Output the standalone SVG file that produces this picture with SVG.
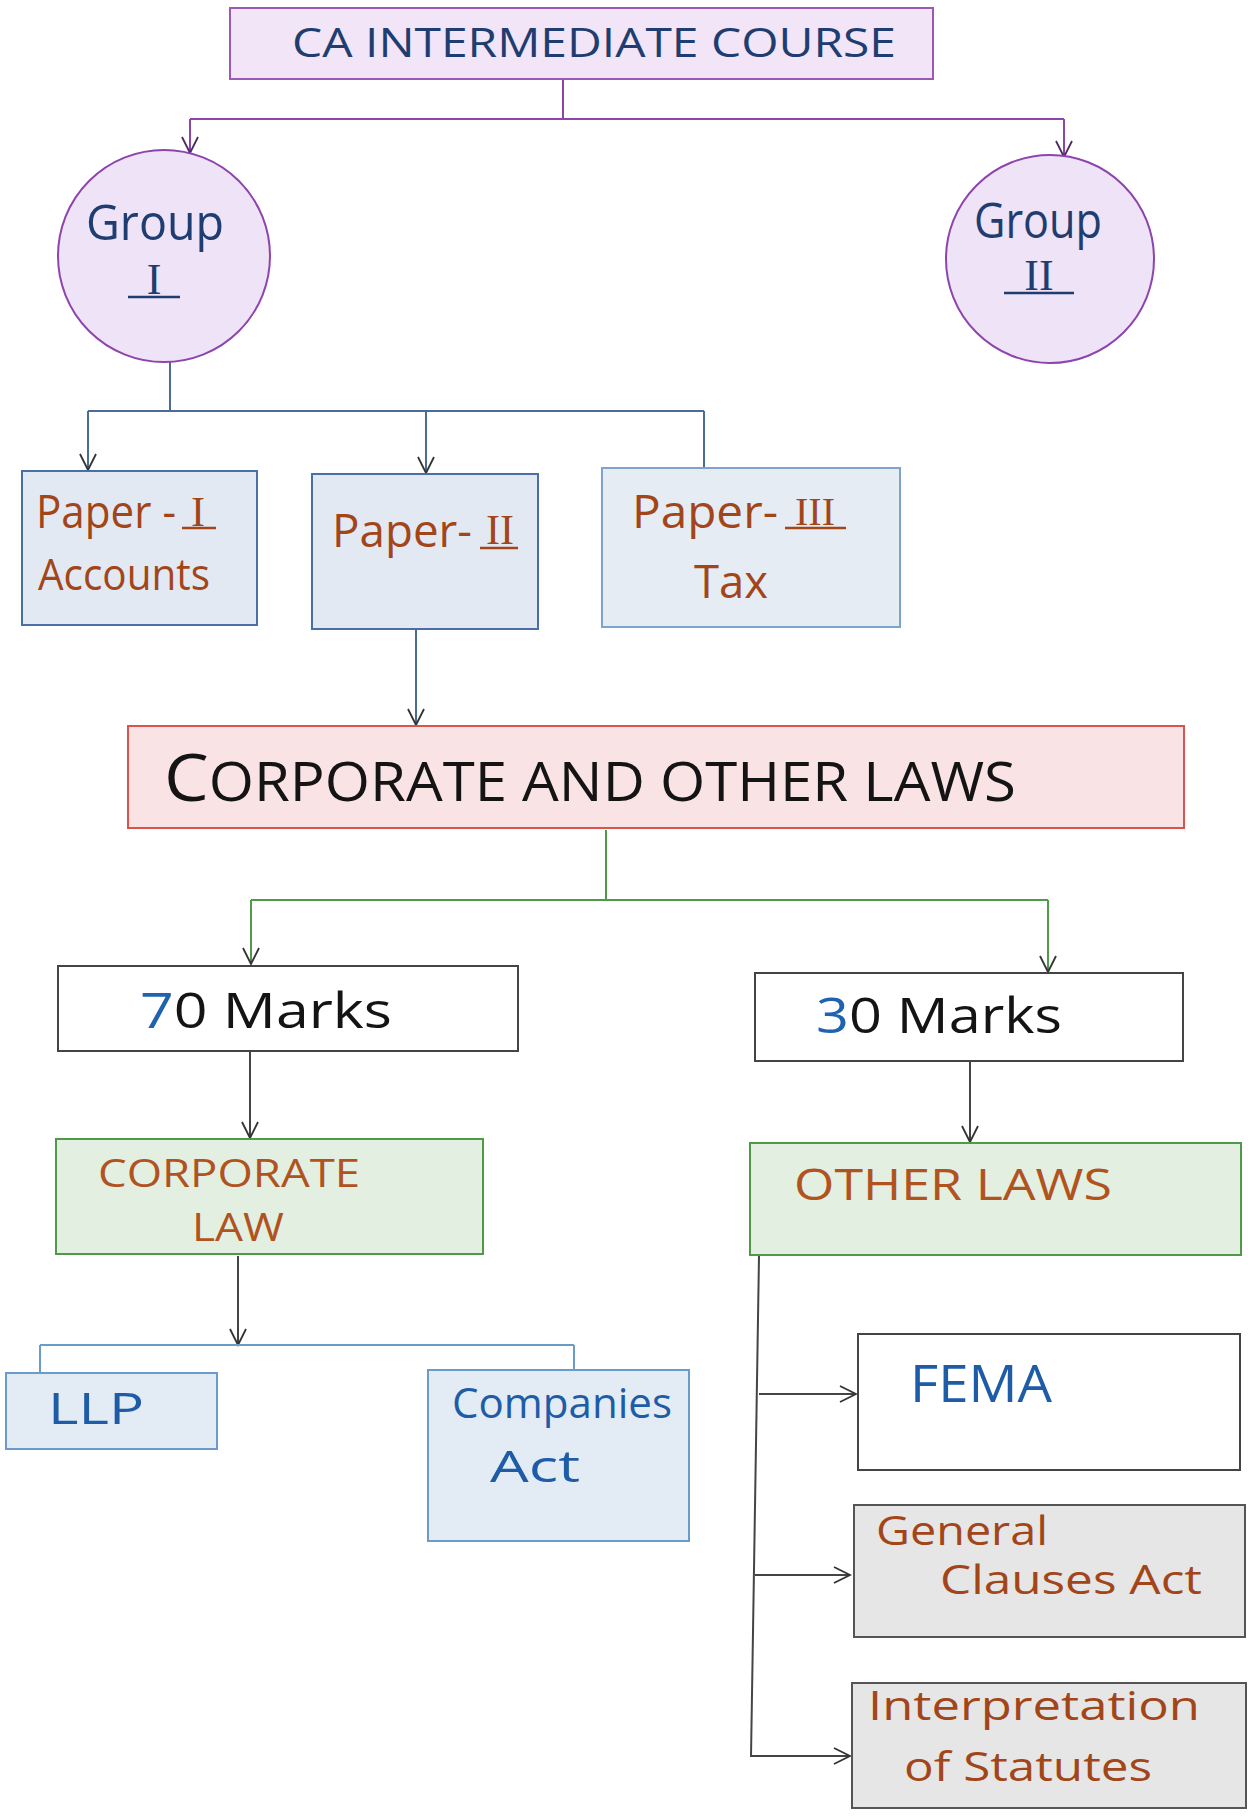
<svg xmlns="http://www.w3.org/2000/svg" width="1248" height="1818" viewBox="0 0 1248 1818">
  <style>
    .hand { font-family: "Open Sans", "Liberation Sans", sans-serif; font-weight: 400; }
    .roman { font-family: "Liberation Serif", serif; }
    .navy { fill: #1f3d70; }
    .blue { fill: #1f5ca8; }
    .brown { fill: #a2461a; }
    .orange { fill: #b0531f; }
    .ink { fill: #141414; }
    .conn { fill: none; stroke-width: 2; }
    .box { stroke-width: 2; }
    .ul { stroke-width: 2.5; }
  </style>
  <defs>
    <marker id="arr" viewBox="0 0 20 20" refX="18" refY="10" markerWidth="20" markerHeight="20" markerUnits="userSpaceOnUse" orient="auto">
      <path d="M2,2 L18,10 L2,18" fill="none" stroke="#333" stroke-width="1.8"/>
    </marker>
    <marker id="arrP" viewBox="0 0 20 20" refX="18" refY="10" markerWidth="20" markerHeight="20" markerUnits="userSpaceOnUse" orient="auto">
      <path d="M2,2 L18,10 L2,18" fill="none" stroke="#4a2a66" stroke-width="1.8"/>
    </marker>
  </defs>

  <rect width="1248" height="1818" fill="#ffffff"/>

  <!-- connectors -->
  <g id="connectors">
    <path class="conn" stroke="#8e44ad" d="M563,79 V119 M190,119 H1064"/>
    <path class="conn" stroke="#8e44ad" d="M190,119 V153" marker-end="url(#arrP)"/>
    <path class="conn" stroke="#8e44ad" d="M1064,119 V157" marker-end="url(#arrP)"/>

    <path class="conn" stroke="#4a6d95" d="M170,362 V411 M88,411 H704 M704,411 V468"/>
    <path class="conn" stroke="#4a6d95" d="M88,411 V470" marker-end="url(#arr)"/>
    <path class="conn" stroke="#4a6d95" d="M426,411 V473" marker-end="url(#arr)"/>

    <path class="conn" stroke="#4a6d95" d="M416,629 V725" marker-end="url(#arr)"/>

    <path class="conn" stroke="#4f9a46" d="M606,830 V900 M251,900 H1048"/>
    <path class="conn" stroke="#4f9a46" d="M251,900 V964" marker-end="url(#arr)"/>
    <path class="conn" stroke="#4f9a46" d="M1048,900 V972" marker-end="url(#arr)"/>

    <path class="conn" stroke="#444" d="M250,1051 V1138" marker-end="url(#arr)"/>
    <path class="conn" stroke="#444" d="M970,1061 V1142" marker-end="url(#arr)"/>

    <path class="conn" stroke="#444" d="M238,1256 V1345" marker-end="url(#arr)"/>
    <path class="conn" stroke="#6a9cc9" d="M40,1345 H574 M40,1345 V1373 M574,1345 V1370"/>

    <path class="conn" stroke="#444" d="M759,1256 L751,1757"/>
    <path class="conn" stroke="#444" d="M759,1394 H856" marker-end="url(#arr)"/>
    <path class="conn" stroke="#444" d="M755,1575 H850" marker-end="url(#arr)"/>
    <path class="conn" stroke="#444" d="M751,1756 H850" marker-end="url(#arr)"/>
  </g>

  <!-- course title -->
  <g id="course">
    <rect class="box" x="230" y="8" width="703" height="71" fill="#f1e5f7" stroke="#9b59b6"/>
    <text class="hand navy" x="292" y="57" font-size="40" textLength="604" lengthAdjust="spacingAndGlyphs">CA INTERMEDIATE COURSE</text>
  </g>

  <!-- groups -->
  <g id="group1">
    <circle cx="164" cy="256" r="106" fill="#efe3f7" stroke="#8e44ad" stroke-width="2"/>
    <text class="hand navy" x="86" y="240" font-size="50" textLength="138" lengthAdjust="spacingAndGlyphs">Group</text>
    <text class="roman navy" x="154" y="294" font-size="44" text-anchor="middle">I</text>
    <line class="ul" x1="128" y1="297" x2="180" y2="297" stroke="#1f3d70"/>
  </g>
  <g id="group2">
    <circle cx="1050" cy="259" r="104" fill="#efe3f7" stroke="#8e44ad" stroke-width="2"/>
    <text class="hand navy" x="974" y="238" font-size="50" textLength="128" lengthAdjust="spacingAndGlyphs">Group</text>
    <text class="roman navy" x="1039" y="290" font-size="44" text-anchor="middle">II</text>
    <line class="ul" x1="1004" y1="293" x2="1074" y2="293" stroke="#1f3d70"/>
  </g>

  <!-- papers -->
  <g id="paper1">
    <rect class="box" x="22" y="471" width="235" height="154" fill="#e3e9f2" stroke="#4a6fa5"/>
    <text class="hand brown" x="36" y="528" font-size="46" textLength="140" lengthAdjust="spacingAndGlyphs">Paper -</text>
    <text class="roman brown" x="198" y="526" font-size="42" text-anchor="middle">I</text>
    <line class="ul" x1="182" y1="528" x2="216" y2="528" stroke="#a2461a"/>
    <text class="hand brown" x="38" y="590" font-size="44" textLength="172" lengthAdjust="spacingAndGlyphs">Accounts</text>
  </g>
  <g id="paper2">
    <rect class="box" x="312" y="474" width="226" height="155" fill="#e3e9f2" stroke="#4a6fa5"/>
    <text class="hand brown" x="332" y="547" font-size="46" textLength="140" lengthAdjust="spacingAndGlyphs">Paper-</text>
    <text class="roman brown" x="500" y="544" font-size="42" text-anchor="middle">II</text>
    <line class="ul" x1="480" y1="548" x2="518" y2="548" stroke="#a2461a"/>
  </g>
  <g id="paper3">
    <rect class="box" x="602" y="468" width="298" height="159" fill="#e5ecf4" stroke="#7ea3cc"/>
    <text class="hand brown" x="632" y="528" font-size="46" textLength="146" lengthAdjust="spacingAndGlyphs">Paper-</text>
    <text class="roman brown" x="815" y="525" font-size="40" text-anchor="middle">III</text>
    <line class="ul" x1="785" y1="528" x2="846" y2="528" stroke="#a2461a"/>
    <text class="hand brown" x="694" y="598" font-size="46" textLength="74" lengthAdjust="spacingAndGlyphs">Tax</text>
  </g>

  <!-- subject -->
  <g id="subject">
    <rect class="box" x="128" y="726" width="1056" height="102" fill="#f9e3e5" stroke="#d9534f"/>
    <text class="hand ink" x="164" y="801" font-size="54" textLength="852" lengthAdjust="spacingAndGlyphs"><tspan font-size="66">C</tspan>ORPORATE AND OTHER LAWS</text>
  </g>

  <!-- marks split -->
  <g id="marks70">
    <rect class="box" x="58" y="966" width="460" height="85" fill="#ffffff" stroke="#444"/>
    <text class="hand" x="140" y="1028" font-size="50" textLength="252" lengthAdjust="spacingAndGlyphs"><tspan fill="#1f63b0">7</tspan><tspan class="ink">0 Marks</tspan></text>
  </g>
  <g id="marks30">
    <rect class="box" x="755" y="973" width="428" height="88" fill="#ffffff" stroke="#444"/>
    <text class="hand" x="816" y="1033" font-size="50" textLength="246" lengthAdjust="spacingAndGlyphs"><tspan fill="#1f63b0">3</tspan><tspan class="ink">0 Marks</tspan></text>
  </g>

  <!-- law areas -->
  <g id="corporate-law">
    <rect class="box" x="56" y="1139" width="427" height="115" fill="#e3efe1" stroke="#4f9a46"/>
    <text class="hand orange" x="98" y="1187" font-size="38" textLength="262" lengthAdjust="spacingAndGlyphs">CORPORATE</text>
    <text class="hand orange" x="192" y="1241" font-size="38" textLength="92" lengthAdjust="spacingAndGlyphs">LAW</text>
  </g>
  <g id="other-laws">
    <rect class="box" x="750" y="1143" width="491" height="112" fill="#e3efe1" stroke="#4f9a46"/>
    <text class="hand orange" x="794" y="1200" font-size="44" textLength="318" lengthAdjust="spacingAndGlyphs">OTHER LAWS</text>
  </g>

  <!-- corporate law parts -->
  <g id="llp">
    <rect class="box" x="6" y="1373" width="211" height="76" fill="#e3ecf5" stroke="#6a9cc9"/>
    <text class="hand blue" x="48" y="1424" font-size="44" textLength="96" lengthAdjust="spacingAndGlyphs">LLP</text>
  </g>
  <g id="companies-act">
    <rect class="box" x="428" y="1370" width="261" height="171" fill="#e3ecf5" stroke="#6a9cc9"/>
    <text class="hand blue" x="452" y="1418" font-size="42" textLength="220" lengthAdjust="spacingAndGlyphs">Companies</text>
    <text class="hand blue" x="490" y="1482" font-size="44" textLength="90" lengthAdjust="spacingAndGlyphs">Act</text>
  </g>

  <!-- other laws parts -->
  <g id="fema">
    <rect class="box" x="858" y="1334" width="382" height="136" fill="#ffffff" stroke="#444"/>
    <text class="hand blue" x="910" y="1402" font-size="52" textLength="142" lengthAdjust="spacingAndGlyphs">FEMA</text>
  </g>
  <g id="general-clauses">
    <rect class="box" x="854" y="1505" width="391" height="132" fill="#e6e6e6" stroke="#555"/>
    <text class="hand brown" x="876" y="1545" font-size="40" textLength="172" lengthAdjust="spacingAndGlyphs">General</text>
    <text class="hand brown" x="940" y="1594" font-size="40" textLength="262" lengthAdjust="spacingAndGlyphs">Clauses Act</text>
  </g>
  <g id="interpretation">
    <rect class="box" x="852" y="1683" width="394" height="125" fill="#e6e6e6" stroke="#555"/>
    <text class="hand brown" x="868" y="1720" font-size="40" textLength="332" lengthAdjust="spacingAndGlyphs">Interpretation</text>
    <text class="hand brown" x="904" y="1781" font-size="40" textLength="248" lengthAdjust="spacingAndGlyphs">of Statutes</text>
  </g>
</svg>
